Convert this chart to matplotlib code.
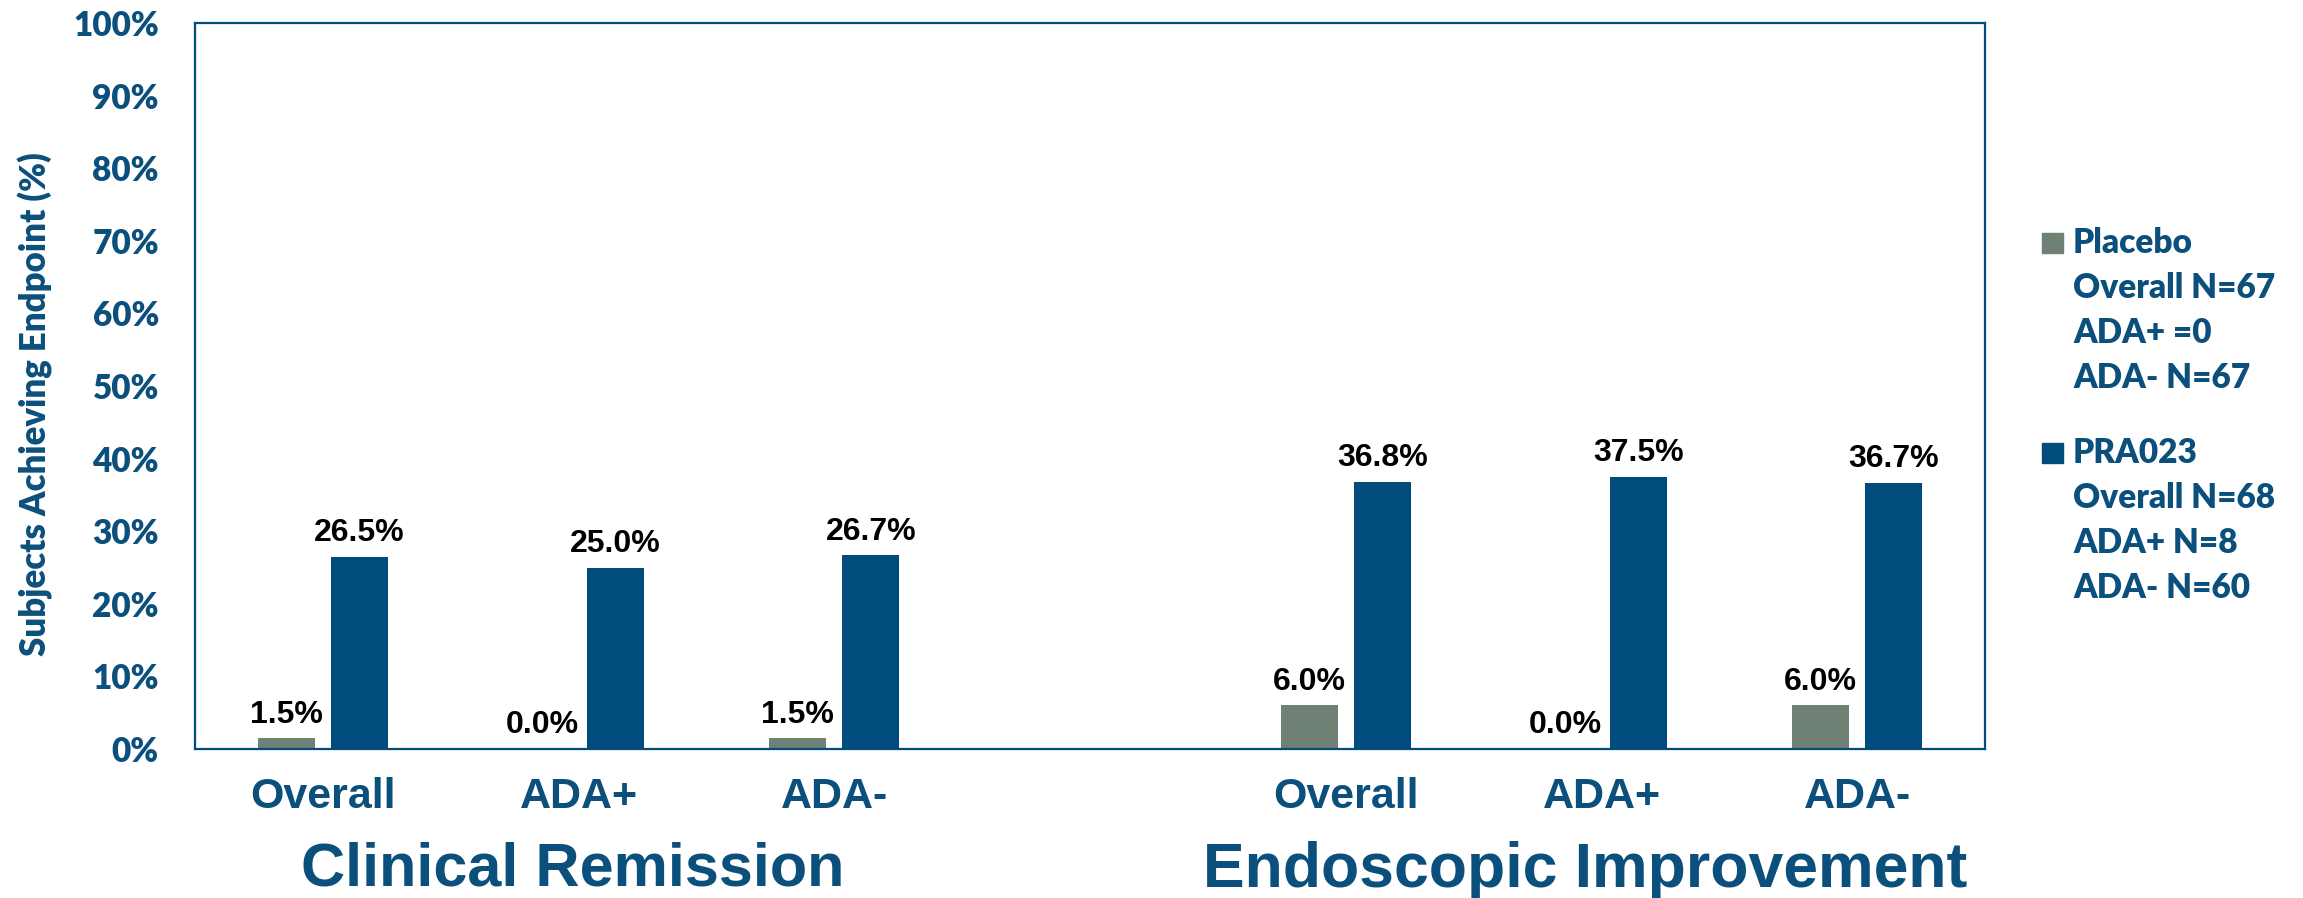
import matplotlib
matplotlib.use("Agg")
import matplotlib.pyplot as plt
from matplotlib.patches import Rectangle
import numpy as np

# data
endpoints = ['Clinical Remission', 'Endoscopic Improvement']
subgroups = ['Overall', 'ADA+', 'ADA-']
placebo = [1.5, 0.0, 1.5, 6.0, 0.0, 6.0]
pra023 = [26.5, 25.0, 26.7, 36.8, 37.5, 36.7]
yticks = list(range(0, 101, 10))
legend_placebo = ['Placebo', 'Overall N=67', 'ADA+ =0', 'ADA- N=67']
legend_pra = ['PRA023', 'Overall N=68', 'ADA+ N=8', 'ADA- N=60']

blue_txt = '#0B4F7C'
blue_bar = '#004C7C'
grey_bar = '#6F8075'
font_a = 'Lato'
font_b = 'Liberation Sans'

# slots 0,1,2 and 4,5,6 (slot 3 left empty between the two endpoints)
pos = np.array([0, 1, 2, 4, 5, 6])
w = 0.223
off = 0.143

fig = plt.figure(figsize=(23.03, 8.98), dpi=100)
ax = fig.add_axes([0.0847, 0.1659, 0.862 - 0.0847, 0.9744 - 0.1659])

b1 = ax.bar(pos - off, placebo, w, color=grey_bar)
b2 = ax.bar(pos + off, pra023, w, color=blue_bar)

for bars, vals in [(b1, placebo), (b2, pra023)]:
    for rect, v in zip(bars, vals):
        ax.annotate('%.1f%%' % v, (rect.get_x() + rect.get_width() / 2, v),
                    xytext=(0, 17), textcoords='offset points',
                    ha='center', va='center', fontsize=23, fontweight='bold',
                    family=font_b, color='black')

ax.set_xlim(-0.5, 6.5)
ax.set_ylim(0, 100)
ax.set_yticks(yticks)
ax.set_yticklabels(['%d%%' % t for t in yticks], family=font_a,
                   fontweight='heavy', fontsize=24, color=blue_txt)
ax.set_xticks(pos)
ax.set_xticklabels(subgroups * 2, family=font_b, fontweight='bold',
                   fontsize=31, color=blue_txt)
ax.tick_params(axis='y', length=0, pad=26)
ax.tick_params(axis='x', length=0, pad=20)

for s in ax.spines.values():
    s.set_color(blue_bar)
    s.set_linewidth(1.6)

ax.set_ylabel('Subjects Achieving Endpoint (%)', family=font_a,
              fontweight='heavy', fontsize=25, color=blue_txt)
ax.yaxis.set_label_coords(-0.0793, 0.475)

# endpoint labels under each block of three subgroups (sit a bit left of centre)
for i, name in enumerate(endpoints):
    xc = pos[i * 3:(i + 1) * 3].mean()
    ax.annotate(name, (xc, -0.167), xycoords=ax.get_xaxis_transform(),
                xytext=(-4 - 8 * i, 0), textcoords='offset points',
                ha='center', va='center', family=font_b, fontweight='bold',
                fontsize=44 + i, color=blue_txt)

# legend, drawn by hand
def legend_block(lines, color, y0):
    fig.patches.append(Rectangle((2042 / 2303, 1 - (y0 + 10) / 898), 21 / 2303, 20 / 898,
                                 transform=fig.transFigure, color=color))
    for k, t in enumerate(lines):
        fig.text(2073 / 2303, 1 - (y0 + 45 * k) / 898, t, ha='left', va='center',
                 family=font_a, fontweight='heavy', fontsize=24, color=blue_txt)

legend_block(legend_placebo, grey_bar, 243)
legend_block(legend_pra, blue_bar, 453)

fig.savefig('out.png', dpi=100)
